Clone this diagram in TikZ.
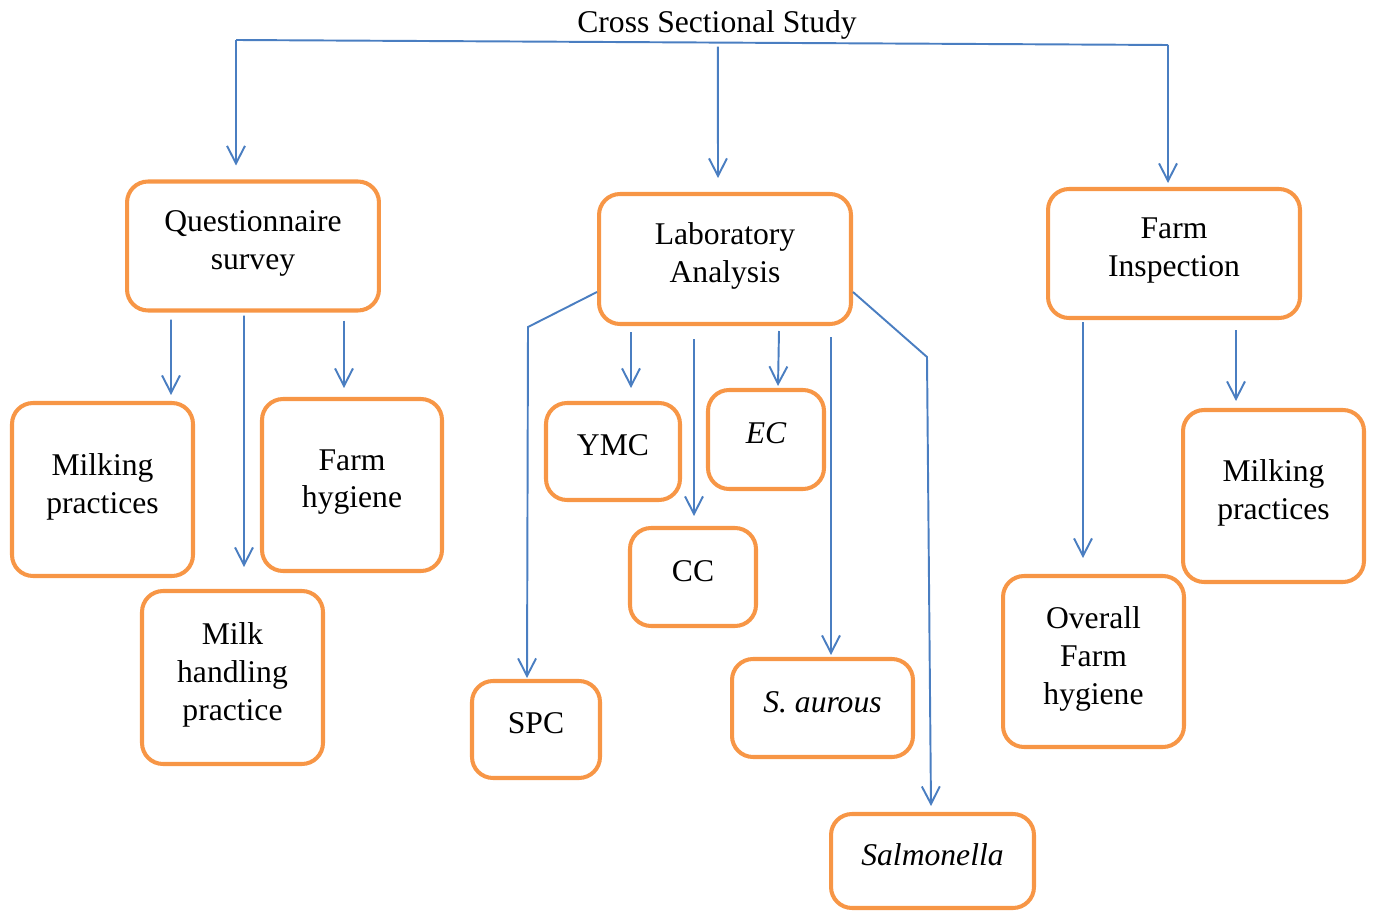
\documentclass[tikz,border=0pt]{standalone}
\usepackage{fontspec}
\setmainfont{Liberation Serif}
\usetikzlibrary{calc,arrows.meta}
\definecolor{boxorange}{RGB}{247,150,70}
\definecolor{linkblue}{RGB}{74,126,193}
\tikzset{
  box/.style={draw=boxorange, line width=2.3pt, rounded corners=0.42cm,
    align=center, inner sep=0pt, font=\fontsize{18}{21.5}\selectfont,
    execute at end node={\rule[-0.25cm]{0pt}{0pt}}},
  link/.style={draw=linkblue, line width=1.1pt},
  arr/.style={link, -{Straight Barb[length=0.35cm,width=0.36cm]}}
}
\begin{document}
\begin{tikzpicture}[x=0.02cm,y=-0.02cm]
\useasboundingbox (0,0) rectangle (1373,912);
\node[font=\fontsize{18}{21.5}\selectfont] (title) at (717,25) {Cross Sectional Study};
% first level
\node[box, minimum width=5.04cm, minimum height=2.58cm] (quest) at (253,246) {Questionnaire\\survey};
\node[box, minimum width=5.04cm, minimum height=2.6cm] (lab) at (725,259) {Laboratory\\Analysis};
\node[box, minimum width=5.04cm, minimum height=2.58cm] (farm) at (1174,253.5) {Farm\\Inspection};
% questionnaire
\node[box, minimum width=3.62cm, minimum height=3.46cm] (milkL) at (102.5,489.5) {Milking\\practices};
\node[box, minimum width=3.6cm, minimum height=3.44cm] (hyg) at (352,485) {Farm\\hygiene};
\node[box, minimum width=3.62cm, minimum height=3.46cm] (handl) at (232.5,677.5) {Milk\\handling\\practice};
% laboratory
\node[box, minimum width=2.68cm, minimum height=1.94cm] (ymc) at (613,451.5) {YMC};
\node[box, minimum width=2.32cm, minimum height=1.98cm] (ec) at (766,439.5) {\itshape EC};
\node[box, minimum width=2.52cm, minimum height=1.96cm] (cc) at (693,577) {CC};
\node[box, minimum width=2.56cm, minimum height=1.94cm] (spc) at (536,729.5) {SPC};
\node[box, minimum width=3.62cm, minimum height=1.96cm] (saur) at (822.5,708) {\itshape S. aurous};
\node[box, minimum width=4.06cm, minimum height=1.88cm] (salm) at (932.5,861) {\itshape Salmonella};
% farm inspection
\node[box, minimum width=3.62cm, minimum height=3.42cm] (overall) at (1093.5,661.5) {Overall\\Farm\\hygiene};
\node[box, minimum width=3.62cm, minimum height=3.44cm] (milkR) at (1273.5,496) {Milking\\practices};

% top bar
\coordinate (topL) at (236,40);
\coordinate (topR) at (1168,45);
\coordinate (topM) at ($(topL)!0.517!(topR)$);
\draw[link] (topL) -- (topR);
\draw[arr] (topL) -- ($(quest.north)+(-17,-14)$);
\draw[arr] ($(topM)+(0,4)$) -- ($(lab.north)+(-7,-14)$);
\draw[arr] (topR) -- ($(farm.north)+(-6,-4)$);

% questionnaire arrows
\draw[arr] ($(quest.south)+(-82,7)$) -- ($(milkL.north)+(68.5,-6)$);
\draw[arr] ($(quest.south)+(-9,3)$) -- ($(handl.north)+(11.5,-22)$);
\draw[arr] ($(quest.south)+(91,8)$) -- ($(hyg.north)+(-8,-9)$);

% laboratory arrows
\draw[arr] ($(lab.west)+(0,33)$) -- ($(lab.west)+(-69,68)$) -- ($(spc.north)+(-9,-1)$);
\draw[arr] ($(lab.south)+(-94,6)$) -- ($(ymc.north)+(18,-13)$);
\draw[arr] ($(lab.south)+(-31,13)$) -- ($(cc.north)+(1,-10)$);
\draw[arr] ($(lab.south)+(54,5)$) -- ($(ec.north)+(12,-2)$);
\draw[arr] ($(lab.south)+(106,11)$) -- ($(saur.north)+(8.5,-2)$);
\draw[arr] ($(lab.east)+(0,33)$) -- ($(lab.east)+(74,98)$) -- ($(salm.north)+(-1.5,-6)$);

% farm inspection arrows
\draw[arr] ($(farm.south)+(-91,2)$) -- ($(overall.north)+(-10.5,-16)$);
\draw[arr] ($(farm.south)+(62,10)$) -- ($(milkR.north)+(-37.5,-7)$);
\end{tikzpicture}
\end{document}
